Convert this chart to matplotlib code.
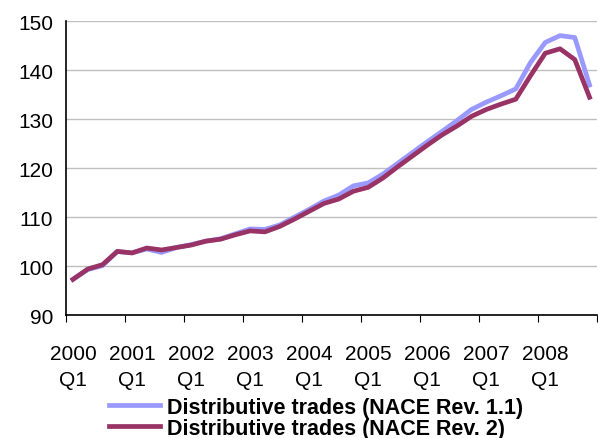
import numpy as np
import matplotlib.pyplot as plt

plt.rcParams['font.family'] = ['Liberation Sans', 'DejaVu Sans']

# quarterly index, 2000 Q1 .. 2008 Q4
years = [str(y) for y in range(2000, 2009)]
nace_rev11 = [97.3, 99.3, 100.1, 103.0, 102.7, 103.5, 102.8, 103.8,
              104.4, 105.1, 105.6, 106.6, 107.6, 107.5, 108.4, 110.0,
              111.6, 113.3, 114.5, 116.4, 117.0, 118.8, 121.0, 123.2,
              125.4, 127.5, 129.7, 132.0, 133.5, 134.8, 136.2, 141.6,
              145.7, 147.1, 146.7, 137.0]
nace_rev2 = [97.3, 99.4, 100.3, 103.0, 102.7, 103.7, 103.3, 103.8,
             104.3, 105.1, 105.5, 106.4, 107.2, 107.0, 108.1, 109.6,
             111.2, 112.8, 113.7, 115.3, 116.1, 118.0, 120.3, 122.5,
             124.7, 126.8, 128.6, 130.6, 132.0, 133.1, 134.1, 138.9,
             143.5, 144.4, 142.2, 134.5]

x = np.arange(len(nace_rev2)) + 0.5

fig = plt.figure(figsize=(5.98, 4.39), dpi=100)
ax = fig.add_axes([0.1097, 0.28, 0.8885, 0.669])

ax.plot(x, nace_rev11, color='#9999FF', lw=3.4, label='Distributive trades (NACE Rev. 1.1)')
ax.plot(x, nace_rev2, color='#993366', lw=3.4, label='Distributive trades (NACE Rev. 2)')

ax.set_xlim(0, len(x))
ax.set_ylim(90, 150)
ax.set_yticks(range(90, 151, 10))
ax.yaxis.grid(True, color='#BFBFBF', lw=1)
ax.set_axisbelow(True)
ax.tick_params(axis='y', length=0, labelsize=15, pad=9)

ax.set_xticks(range(0, len(x) + 1, 4))
ax.set_xticklabels([])
ax.set_xticks(np.arange(0, len(x), 4) + 0.5, minor=True)
ax.set_xticklabels([y + '\nQ1' for y in years], minor=True, fontsize=15,
                   linespacing=1.45)
ax.tick_params(axis='x', which='major', length=5, direction='out')
ax.tick_params(axis='x', which='minor', length=0, pad=21)

for s in ['top', 'right']:
    ax.spines[s].set_visible(False)
ax.spines['left'].set_linewidth(1.2)
ax.spines['bottom'].set_linewidth(1.2)

fig.legend(loc='upper center', bbox_to_anchor=(0.528, 0.118), frameon=False,
           prop={'weight': 'bold', 'size': 15.5}, handlelength=2.4,
           handletextpad=0.3, labelspacing=0.0, borderpad=0)

fig.savefig('out.png', dpi=100)
